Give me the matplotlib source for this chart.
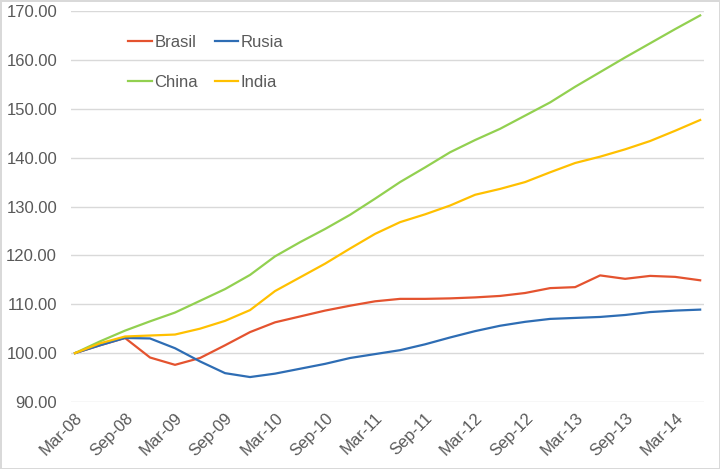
import numpy as np
import matplotlib
matplotlib.use("Agg")
from matplotlib import pyplot as plt

#------------------------------------------------------------
# Quarterly index values (Mar-08 = 100)
quarters = ['Mar-08', 'Jun-08', 'Sep-08', 'Dec-08', 'Mar-09', 'Jun-09',
            'Sep-09', 'Dec-09', 'Mar-10', 'Jun-10', 'Sep-10', 'Dec-10',
            'Mar-11', 'Jun-11', 'Sep-11', 'Dec-11', 'Mar-12', 'Jun-12',
            'Sep-12', 'Dec-12', 'Mar-13', 'Jun-13', 'Sep-13', 'Dec-13',
            'Mar-14', 'Jun-14']

brasil = [100.0, 101.6, 103.1, 99.1, 97.6, 99.0, 101.6, 104.3, 106.3, 107.5,
          108.7, 109.7, 110.6, 111.1, 111.1, 111.2, 111.4, 111.7, 112.3,
          113.3, 113.5, 115.9, 115.2, 115.8, 115.6, 114.9]
rusia = [100.0, 101.6, 103.1, 103.0, 101.0, 98.3, 95.9, 95.1, 95.8, 96.8,
         97.8, 99.0, 99.8, 100.6, 101.8, 103.2, 104.5, 105.6, 106.4, 107.0,
         107.2, 107.4, 107.8, 108.4, 108.7, 108.9]
china = [100.0, 102.4, 104.6, 106.5, 108.3, 110.7, 113.1, 116.0, 119.8, 122.7,
         125.4, 128.3, 131.6, 135.0, 138.0, 141.1, 143.6, 145.9, 148.6, 151.3,
         154.5, 157.5, 160.5, 163.4, 166.3, 169.1]
india = [100.0, 102.0, 103.4, 103.6, 103.8, 105.0, 106.6, 108.8, 112.7, 115.5,
         118.3, 121.4, 124.4, 126.8, 128.4, 130.2, 132.4, 133.6, 135.0, 137.0,
         138.9, 140.2, 141.7, 143.4, 145.5, 147.7]

series = [('Brasil', brasil, '#E4532F'),
          ('Rusia', rusia, '#2E6DB4'),
          ('China', china, '#92D050'),
          ('India', india, '#FFC000')]

plt.rcParams['font.family'] = ['Liberation Sans', 'DejaVu Sans']
text_color = '#595959'

#------------------------------------------------------------
# Plot
fig = plt.figure(figsize=(7.2, 4.69), dpi=100)
fig.patch.set_edgecolor('#D9D9D9')
fig.patch.set_linewidth(2)
ax = fig.add_axes([0.0986, 0.1429, 0.8794, 0.8336])

x = np.arange(len(quarters))
lines = {}
for name, vals, color in series:
    lines[name], = ax.plot(x, vals, '-', color=color, lw=1.6, label=name)

ax.set_xlim(-0.16, len(quarters) - 1 + 0.16)
ax.set_ylim(90, 170)
ax.set_yticks(np.arange(90, 171, 10))
ax.set_yticklabels(['%.2f' % v for v in np.arange(90, 171, 10)])
ax.set_xticks(x[::2])
ax.set_xticklabels(quarters[::2], rotation=45, ha='right',
                   rotation_mode='anchor')

ax.grid(axis='y', color='#D9D9D9', lw=1)
ax.set_axisbelow(True)
for side in ['top', 'right', 'left', 'bottom']:
    ax.spines[side].set_visible(False)
ax.tick_params(axis='both', length=0, labelsize=12, colors=text_color)
ax.tick_params(axis='y', pad=10)
ax.tick_params(axis='x', pad=6)

# matplotlib fills legend columns first: order so rows read Brasil/Rusia, China/India
order = ['Brasil', 'China', 'Rusia', 'India']
leg = ax.legend([lines[n] for n in order], order,
                loc='upper left', bbox_to_anchor=(0.067, 0.977), ncol=2,
                frameon=False, fontsize=12, handlelength=1.4,
                handletextpad=0.15, columnspacing=1.0, labelspacing=1.5)
for t in leg.get_texts():
    t.set_color(text_color)

fig.savefig('out.png', dpi=100)
